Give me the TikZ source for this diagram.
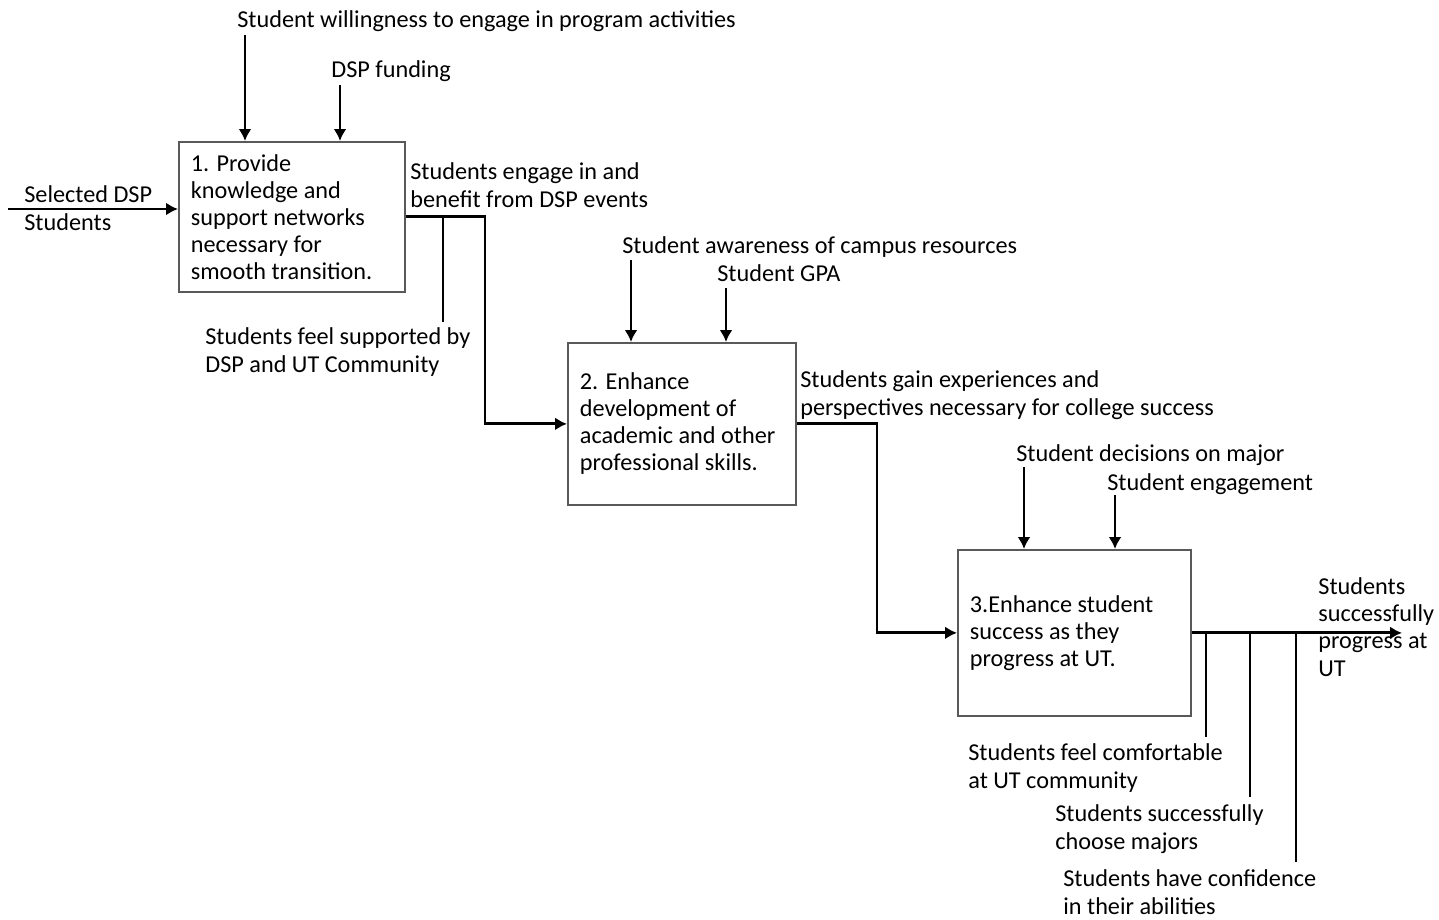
\documentclass[tikz,border=0pt]{standalone}
\usepackage{fontspec}
\setmainfont{Carlito}
\usepackage{tikz}
\usetikzlibrary{arrows.meta}
\tikzset{ proc_box/.style = {rectangle, draw=black!65, line width=1pt, align=flush left, inner xsep=0.24cm, anchor=north west} }
\tikzset{ lbl/.style = {inner sep=0pt, anchor=base west, align=flush left} }
\tikzset{ flow/.style = {line width=1.6pt, -{Latex[length=0.24cm,width=0.26cm]}} }
\tikzset{ branch/.style = {line width=1.6pt} }

\begin{document}
\begin{tikzpicture}[x=0.02cm, y=-0.02cm, font=\fontsize{13.8}{15.4}\selectfont]
            \useasboundingbox (0,0) rectangle (1439,919);
            % boxes
            \node[proc_box, minimum width=226*0.02cm, minimum height=150*0.02cm, text width=202*0.02cm] (p1) at (178,141)
                {1. Provide\\knowledge and\\support networks\\necessary for\\smooth transition.};
            \node[proc_box, minimum width=228*0.02cm, minimum height=162*0.02cm, text width=204*0.02cm] (p2) at (567,342)
                {2. Enhance\\development of\\academic and other\\professional skills.};
            \node[proc_box, minimum width=233*0.02cm, minimum height=166*0.02cm, text width=209*0.02cm] (p3) at (957,549)
                {3.Enhance student\\success as they\\progress at UT.};
            % labels (base = last line)
            \node[lbl] (w1) at (237,28) {Student willingness to engage in program activities};
            \node[lbl] (f1) at (331,78) {DSP funding};
            \node[lbl] (i1) at (24,230) {Selected DSP\\Students};
            \node[lbl] (o1) at (410,207) {Students engage in and\\benefit from DSP events};
            \node[lbl] (s1) at (205,372) {Students feel supported by\\DSP and UT Community};
            \node[lbl] (a2) at (622,253) {Student awareness of campus resources};
            \node[lbl] (g2) at (717,281) {Student GPA};
            \node[lbl] (o2) at (800,415) {Students gain experiences and\\perspectives necessary for college success};
            \node[lbl] (d3) at (1016,461) {Student decisions on major};
            \node[lbl] (e3) at (1107,490) {Student engagement};
            \node[lbl] (o3) at (1318,676) {Students\\successfully\\progress at\\UT};
            \node[lbl] (c3) at (968,788) {Students feel comfortable\\at UT community};
            \node[lbl] (m3) at (1055,849) {Students successfully\\choose majors};
            \node[lbl] (h3) at (1063,914) {Students have confidence\\in their abilities};
            % free ends
            \coordinate (in) at (8,209);
            \coordinate (w1a) at (245,35);
            \coordinate (f1a) at (340,85);
            \coordinate (k1) at (485,300);
            \coordinate (s1a) at (443,322);
            \coordinate (a2a) at (631,260);
            \coordinate (g2a) at (726,288);
            \coordinate (k2) at (877,500);
            \coordinate (d3a) at (1024,467);
            \coordinate (e3a) at (1115,495);
            \coordinate (out) at (1402,632);
            \coordinate (c3a) at (1206,737);
            \coordinate (m3a) at (1250,797);
            \coordinate (h3a) at (1296,862);
            % connectors
            \draw[flow] (in) -- (in -| p1.west);
            \draw[flow] (w1a) -- (w1a |- p1.north);
            \draw[flow] (f1a) -- (f1a |- p1.north);
            \draw[flow] (p1.east) -| (k1) |- (p2.west);
            \draw[branch] (s1a |- p1.east) -- (s1a);
            \draw[flow] (a2a) -- (a2a |- p2.north);
            \draw[flow] (g2a) -- (g2a |- p2.north);
            \draw[flow] (p2.east) -| (k2) |- (p3.west);
            \draw[flow] (d3a) -- (d3a |- p3.north);
            \draw[flow] (e3a) -- (e3a |- p3.north);
            \draw[flow] (p3.east) -- (out |- p3.east);
            \draw[branch] (c3a |- p3.east) -- (c3a);
            \draw[branch] (m3a |- p3.east) -- (m3a);
            \draw[branch] (h3a |- p3.east) -- (h3a);
        \end{tikzpicture}
\end{document}
